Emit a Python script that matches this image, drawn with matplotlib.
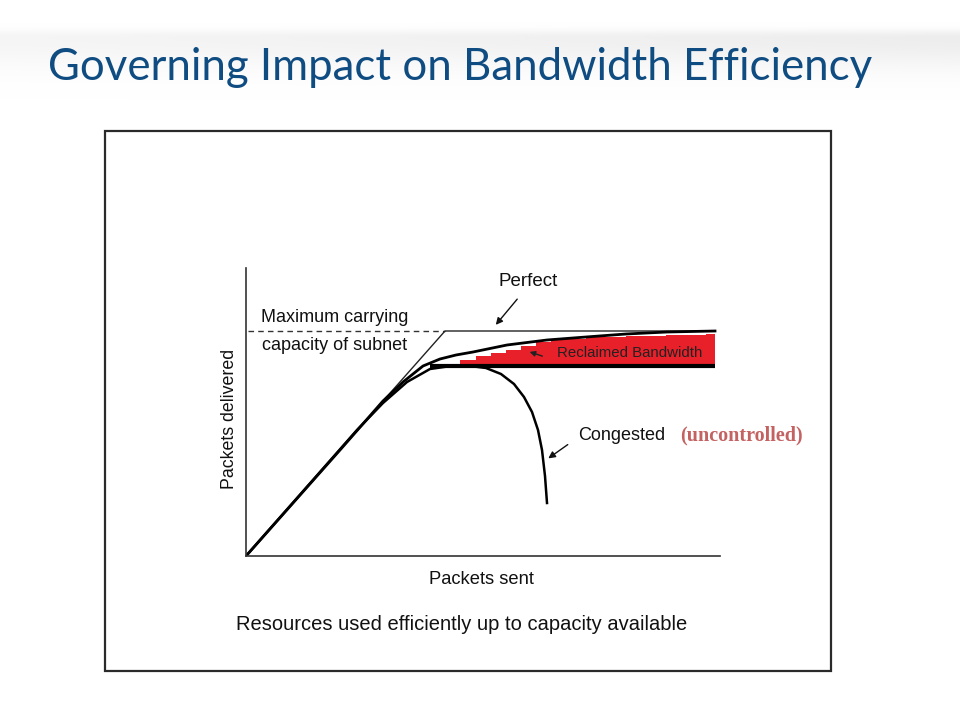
import numpy as np
import matplotlib.pyplot as plt
from matplotlib.patches import Rectangle

# diagram data (arbitrary units: packets sent vs packets delivered)
capacity = 2.25
perfect_x = [0, 1.99, 4.69]
perfect_y = [0, capacity, capacity]
dashed_x = [0.02, 1.99]

controlled_x = [0, 0.94, 1.37, 1.57, 1.77, 1.94, 2.10, 2.27, 2.61, 3.01, 3.40, 3.80, 4.21, 4.69]
controlled_y = [0, 1.06, 1.55, 1.74, 1.90, 1.97, 2.01, 2.04, 2.11, 2.16, 2.19, 2.22, 2.24, 2.25]

congested_x = [0, 1.11, 1.37, 1.61, 1.84, 2.05, 2.24, 2.40, 2.55, 2.68, 2.78, 2.86, 2.92, 2.96, 2.99, 3.01]
congested_y = [0, 1.26, 1.53, 1.74, 1.87, 1.90, 1.90, 1.88, 1.82, 1.72, 1.59, 1.44, 1.26, 1.06, 0.80, 0.53]

limit_x = [1.84, 4.69]
limit_y = 1.90

reclaim_x = [2.14, 2.30, 2.45, 2.60, 2.75, 2.90, 3.05, 3.40, 3.80, 4.20, 4.60, 4.69]
reclaim_top = [1.96, 2.00, 2.03, 2.06, 2.10, 2.14, 2.17, 2.19, 2.20, 2.21, 2.22, 2.22]
reclaim_bottom = 1.92

title = 'Governing Impact on Bandwidth Efficiency'

fig = plt.figure(figsize=(9.6, 7.2), dpi=100)

# slide background in pixel units
bg = fig.add_axes([0, 0, 1, 1])
bg.set_xlim(0, 960)
bg.set_ylim(720, 0)
bg.axis('off')

# soft grey swoosh at the top of the slide
rows = np.linspace(0, 1, 80)
band = np.where(rows < 0.3, np.exp(-((rows - 0.3) / 0.08) ** 2),
                np.exp(-((rows - 0.3) / 0.35) ** 2))
grad = np.tile(band[:, None], (1, 200)) * np.linspace(0.55, 1.0, 200)[None, :]
shade = np.ones((80, 200, 4))
shade[..., :3] = 0.80
shade[..., 3] = grad * 0.35
bg.imshow(shade, extent=[0, 960, 100, 10], aspect='auto', zorder=0)

bg.text(48, 68, title, fontsize=31.5, color='#0f4c81', family='Lato',
        va='center', ha='left')
bg.add_patch(Rectangle((105, 131), 726, 540, fill=False, edgecolor='#2a2a2a', lw=1.6))

# the diagram itself
ax = fig.add_axes([246 / 960, 164 / 720, 500 / 960, 300 / 720])
ax.set_xlim(0, 5)
ax.set_ylim(0, 3)
ax.patch.set_alpha(0)
for s in ['top', 'right']:
    ax.spines[s].set_visible(False)
ax.spines['left'].set_bounds(0, 2.88)
ax.spines['bottom'].set_bounds(0, 4.74)
for s in ['left', 'bottom']:
    ax.spines[s].set_color('#333333')
    ax.spines[s].set_linewidth(1.2)
ax.set_xticks([])
ax.set_yticks([])

ax.fill_between(reclaim_x, reclaim_bottom, reclaim_top, step='post', color='#e8202a', lw=0, zorder=1)
ax.plot(dashed_x, [capacity, capacity], color='#333333', lw=1.0, ls=(0, (4, 3)))
ax.plot(perfect_x, perfect_y, color='#222222', lw=1.0)
ax.plot(controlled_x, controlled_y, color='black', lw=2.0)
ax.plot(congested_x, congested_y, color='black', lw=1.8)
ax.plot(limit_x, [limit_y, limit_y], color='black', lw=3.0, solid_capstyle='butt')

f = 'Liberation Sans'
ax.text(3.11, 2.03, 'Reclaimed Bandwidth', fontsize=10.8, family=f, color='#222222', va='center')
ax.annotate('', xy=(2.81, 2.05), xytext=(2.99, 1.99),
            arrowprops=dict(arrowstyle='-|>', color='#222222', lw=1.0, mutation_scale=8))

ax.text(2.82, 2.74, 'Perfect', fontsize=13.5, family=f, ha='center', va='center', color='#111111')
ax.annotate('', xy=(2.48, 2.29), xytext=(2.73, 2.59),
            arrowprops=dict(arrowstyle='-|>', color='#111111', lw=1.0, mutation_scale=10))

ax.text(0.15, 2.38, 'Maximum carrying', fontsize=13, family=f, va='center', color='#111111')
ax.text(0.16, 2.10, 'capacity of subnet', fontsize=13, family=f, va='center', color='#111111')

ax.text(3.32, 1.21, 'Congested', fontsize=13, family=f, va='center', color='#111111')
ax.text(4.34, 1.21, '(uncontrolled)', fontsize=14.5, family='Liberation Serif', weight='bold',
        va='center', color='#c46262', clip_on=False)
ax.annotate('', xy=(3.00, 0.96), xytext=(3.24, 1.13),
            arrowprops=dict(arrowstyle='-|>', color='#111111', lw=1.0, mutation_scale=10))

ax.text(-0.16, 1.37, 'Packets delivered', fontsize=12.8, family=f, rotation=90,
        ha='center', va='center', color='#111111', clip_on=False)
ax.text(2.35, -0.23, 'Packets sent', fontsize=13.2, family=f, ha='center', va='center',
        color='#111111', clip_on=False)
ax.text(2.16, -0.68, 'Resources used efficiently up to capacity available', fontsize=14.5,
        family=f, ha='center', va='center', color='#111111', clip_on=False)

fig.savefig('out.png', dpi=100)
